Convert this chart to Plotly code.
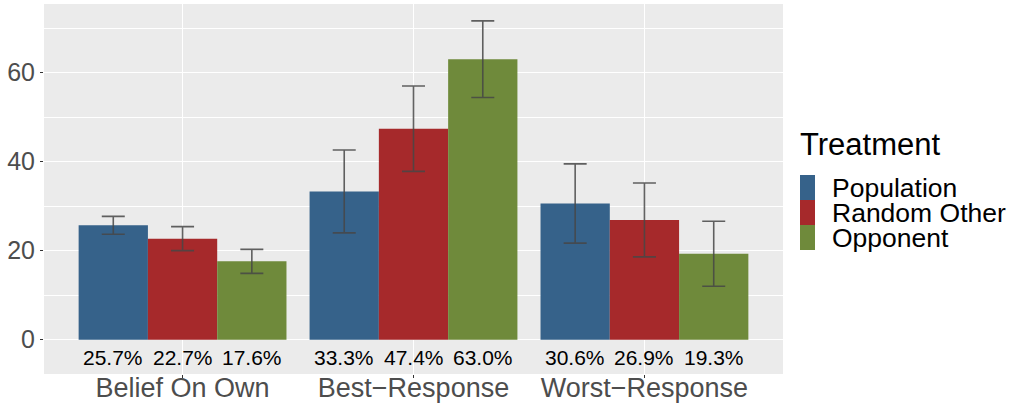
import plotly.graph_objects as go

categories = ["Belief On Own", "Best\u2212Response", "Worst\u2212Response"]
treatments = ["Population", "Random Other", "Opponent"]
colors = ["#36628A", "#A6292B", "#6F8A3B"]

population = [25.7, 33.3, 30.6]
random_other = [22.7, 47.4, 26.9]
opponent = [17.6, 63.0, 19.3]
values = [population, random_other, opponent]

population_err = [2.0, 9.3, 8.9]
random_other_err = [2.7, 9.6, 8.3]
opponent_err = [2.7, 8.6, 7.3]
errors = [population_err, random_other_err, opponent_err]

label_y = -4.1
FONT = "Liberation Sans, Arial, Helvetica, sans-serif"

W, H = 1014, 407
ML, MR, MT, MB = 44, 231, 4, 33
PW, PH = W - ML - MR, H - MT - MB


def px_x(px):
    return (px - ML) / PW


def px_y(py):
    return (H - MB - py) / PH


x_idx = [1, 2, 3]
fig = go.Figure()
for name, vals, errs, col in zip(treatments, values, errors, colors):
    fig.add_trace(go.Bar(
        x=x_idx, y=vals, name=name, marker=dict(color=col, line=dict(width=0)),
        error_y=dict(type="data", array=errs, visible=True, color="rgba(70,70,70,0.85)",
                     thickness=1.6, width=11.5),
        showlegend=False,
    ))

bar_w = 0.9 / len(treatments)
for j, vals in enumerate(values):
    for i, v in enumerate(vals):
        fig.add_annotation(x=x_idx[i] + (j - 1) * bar_w, y=label_y, xref="x", yref="y",
                           text=f"{v:.1f}%", showarrow=False,
                           font=dict(family=FONT, size=21, color="black"))

# legend (ggplot-style tall keys)
fig.add_annotation(xref="paper", yref="paper", x=px_x(798), y=px_y(144),
                   xanchor="left", yanchor="middle", text="Treatment", showarrow=False,
                   font=dict(family=FONT, size=31, color="black"))
for k, (name, col) in enumerate(zip(treatments, colors)):
    top = 175 + 25 * k
    fig.add_shape(type="rect", xref="paper", yref="paper",
                  x0=px_x(800), x1=px_x(815), y0=px_y(top + 25), y1=px_y(top),
                  fillcolor=col, line=dict(width=0), layer="above")
    fig.add_annotation(xref="paper", yref="paper", x=px_x(830), y=px_y(top + 12.5),
                       xanchor="left", yanchor="middle", text=name, showarrow=False,
                       font=dict(family=FONT, size=26.5, color="black"))

fig.update_layout(
    template="none",
    width=W, height=H,
    margin=dict(l=ML, r=MR, t=MT, b=MB, pad=0),
    paper_bgcolor="white", plot_bgcolor="#EBEBEB",
    barmode="group", bargap=0.1, bargroupgap=0,
    font=dict(family=FONT),
    showlegend=False,
)
fig.update_xaxes(
    automargin=False,
    range=[0.4, 3.6], tickvals=x_idx, ticktext=categories,
    showgrid=True, gridcolor="white", gridwidth=1.4, zeroline=False, showline=False,
    ticks="outside", ticklen=3, tickcolor="#333333", tickwidth=1,
    ticklabelstandoff=-13,
    tickfont=dict(size=27, color="#4D4D4D", family=FONT),
)
fig.update_yaxes(
    automargin=False,
    range=[-7.7, 75.4], tickvals=[0, 20, 40, 60],
    showgrid=True, gridcolor="white", gridwidth=1.4, zeroline=False, showline=False,
    minor=dict(tickvals=[10, 30, 50, 70], showgrid=True, gridcolor="white", gridwidth=0.7, ticks=""),
    ticks="outside", ticklen=3, tickcolor="#333333", tickwidth=1,
    tickfont=dict(size=25, color="#4D4D4D", family=FONT),
)

fig.write_html("out.html", config={"displayModeBar": False},
               post_script="document.body.style.margin='0';")
